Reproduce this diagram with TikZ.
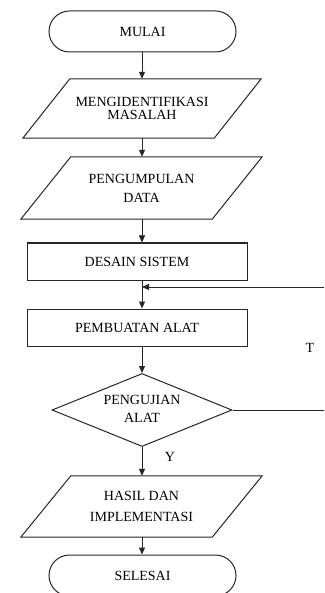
\documentclass[tikz,border=0pt]{standalone}
\usepackage{fontspec}
\setmainfont{Liberation Serif}
\usetikzlibrary{shapes.misc,shapes.geometric,arrows.meta}
\begin{document}
\begin{tikzpicture}[x=1pt,y=-1pt,
  every node/.style={font=\fontsize{14}{14}\selectfont, inner sep=0pt, align=center},
  term/.style={draw, rounded rectangle, minimum width=187pt, minimum height=41pt},
  pbox/.style={minimum width=191pt},
  rbox/.style={draw, rectangle, minimum width=220pt, minimum height=37pt},
  dbox/.style={draw, diamond, aspect=2.48, minimum width=180pt, minimum height=73pt},
  ln/.style={line width=1pt, draw=black!85},
  arr/.style={ln, -{Triangle[length=7pt,width=6pt]}}]
\clip (0,0) rectangle (324,593);
\fill[white] (0,0) rectangle (324,593);
% shapes
\node[term, ln] (mulai) at (142.5,31.5) {MULAI};
\node[pbox, minimum height=59pt] (p1) at (142,108.5) {MENGIDENTIFIKASI\\[-1pt]MASALAH};
\draw[ln] ([xshift=23.5pt]p1.north west) -- ([xshift=23.5pt]p1.north east)
  -- ([xshift=-23.5pt]p1.south east) -- ([xshift=-23.5pt]p1.south west) -- cycle;
\node[pbox, minimum height=62pt, font=\fontsize{14}{19}\selectfont] (p2) at (141.5,188) {PENGUMPULAN\\DATA};
\draw[ln] ([xshift=25pt]p2.north west) -- ([xshift=25pt]p2.north east)
  -- ([xshift=-25pt]p2.south east) -- ([xshift=-25pt]p2.south west) -- cycle;
\node[rbox, ln] (desain) at (137,261.5) {DESAIN SISTEM};
\node[rbox, ln] (buat) at (137,327.5) {PEMBUATAN ALAT};
\node[dbox, ln] (uji) at (142,410) {};
\node[font=\fontsize{14}{18}\selectfont] (ujit) at (142,409) {PENGUJIAN\\ALAT};
\node[pbox, minimum height=61pt, font=\fontsize{14}{21}\selectfont] (p3) at (141.5,506.5) {HASIL DAN\\IMPLEMENTASI};
\draw[ln] ([xshift=25pt]p3.north west) -- ([xshift=25pt]p3.north east)
  -- ([xshift=-25pt]p3.south east) -- ([xshift=-25pt]p3.south west) -- cycle;
\node[term, ln] (selesai) at (142.5,575.5) {SELESAI};
% labels
\node (T) at (310,348) {T};
\node (Y) at (170,457) {Y};
% connectors
\coordinate (m) at (142,287);
\coordinate (r1) at (324,410);
\coordinate (r2) at (324,287);
\draw[arr] (mulai.south -| p1.north) -- (p1.north);
\draw[arr] (p1.south) -- (p2.north -| p1.south);
\draw[arr] (p1.south |- p2.south) -- (p1.south |- desain.north);
\draw[arr] (m |- desain.south) -- (m |- buat.north);
\draw[arr] (m |- buat.south) -- (uji.north);
\draw[arr] (uji.south) -- (uji.south |- p3.north);
\draw[arr] (uji.south |- p3.south) -- (uji.south |- selesai.north);
\draw[ln] (uji.east) -- (r1);
\draw[arr] (r2) -- (m);
\end{tikzpicture}
\end{document}
